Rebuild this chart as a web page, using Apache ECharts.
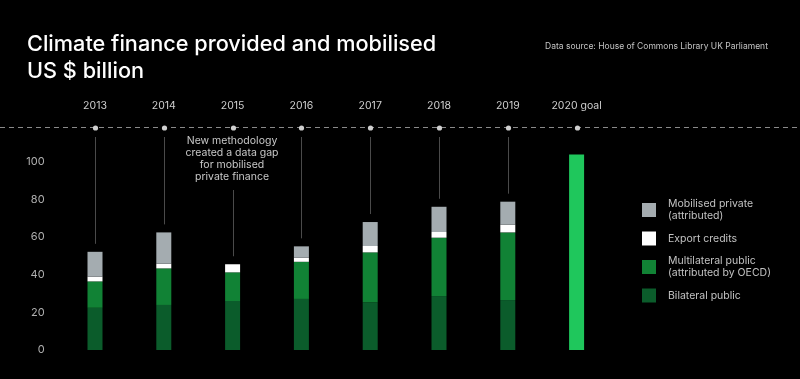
<!DOCTYPE html>
<html>
<head>
<meta charset="utf-8">
<script src="https://cdn.jsdelivr.net/npm/echarts@6/dist/echarts.min.js"></script>
<style>
html,body{margin:0;padding:0;background:#000;}
#chart{width:800px;height:379px;}
</style>
</head>
<body>
<div id="chart"></div>
<script>
// ---- data ----
var years = ['2013', '2014', '2015', '2016', '2017', '2018', '2019', '2020 goal'];
var bilateralPublic = [22.4, 23.9, 26.0, 27.1, 25.3, 28.6, 26.5, '-'];
var multilateralPublic = [14.0, 19.4, 15.2, 19.7, 26.5, 31.0, 35.9, '-'];
var exportCredits = [2.5, 2.5, 4.3, 2.2, 3.4, 3.0, 4.1, '-'];
var mobilisedPrivate = [13.2, 16.6, '-', 6.0, 12.7, 13.4, 12.2, '-'];
var goal2020 = ['-', '-', '-', '-', '-', '-', '-', 103.8];
var yTicks = [0, 20, 40, 60, 80, 100];

var NAME_PRIV = 'Mobilised private\n(attributed)';
var NAME_EXP = 'Export credits';
var NAME_MULTI = 'Multilateral public\n(attributed by OECD)';
var NAME_BIL = 'Bilateral public';

function num(v) { return (v === '-' || v == null) ? 0 : v; }
var leaderData = years.map(function (y, i) {
  var total = num(bilateralPublic[i]) + num(multilateralPublic[i]) + num(exportCredits[i]) + num(mobilisedPrivate[i]);
  var hasLine = goal2020[i] === '-' ? 1 : 0;
  return [i, total, hasLine];
});

var FONT = 'Inter, "Noto Sans", sans-serif';
var chart = echarts.init(document.getElementById('chart'));

function barSeries(name, data, color) {
  return {
    name: name, type: 'bar', stack: 'total', data: data, barWidth: 15,
    itemStyle: { color: color }, emphasis: { disabled: true }, z: 3
  };
}

var option = {
  backgroundColor: '#000',
  animation: false,
  textStyle: { fontFamily: FONT },
  title: [
    {
      text: 'Climate finance provided and mobilised\nUS $ billion',
      left: 22, top: 26,
      textStyle: { color: '#fff', fontSize: 21.7, fontWeight: 500, lineHeight: 27, fontFamily: FONT }
    },
    {
      text: 'Data source: House of Commons Library UK Parliament',
      left: 540, top: 37,
      textStyle: { color: '#c4c4c4', fontSize: 8.5, fontWeight: 400, fontFamily: FONT }
    }
  ],
  legend: {
    orient: 'vertical',
    left: 637, top: 193,
    itemWidth: 14, itemHeight: 14, itemGap: 9.5,
    icon: 'rect',
    selectedMode: false,
    data: [NAME_PRIV, NAME_EXP, NAME_MULTI, NAME_BIL],
    textStyle: { color: '#c2c2c2', fontSize: 10.5, lineHeight: 12, fontFamily: FONT, padding: [0, 0, 0, 7] }
  },
  grid: { left: 60.6, right: 189, top: 128, bottom: 29, containLabel: false },
  xAxis: {
    type: 'category', position: 'top', data: years,
    axisLine: { show: false }, axisTick: { show: false },
    axisLabel: { color: '#cfcfcf', fontSize: 10.5, margin: 17, fontFamily: FONT }
  },
  yAxis: {
    type: 'value', min: 0, max: 117.8, interval: 20,
    splitLine: { show: false }, axisLine: { show: false }, axisTick: { show: false },
    axisLabel: {
      color: '#b0b0b0', fontSize: 11, margin: 16, fontFamily: FONT,
      showMaxLabel: false,
      formatter: function (v) { return yTicks.indexOf(v) >= 0 ? String(v) : ''; }
    }
  },
  graphic: [
    {
      type: 'line', z: 1, silent: true,
      shape: { x1: 0, y1: 127.5, x2: 800, y2: 127.5 },
      style: { stroke: '#8a8a8a', lineWidth: 1, lineDash: [5, 4] }
    },
    {
      type: 'text', silent: true, z: 5,
      x: 232, y: 135,
      style: {
        text: 'New methodology\ncreated a data gap\nfor mobilised\nprivate finance',
        fill: '#c8c8c8', font: '10.5px ' + FONT, align: 'center', verticalAlign: 'top', lineHeight: 12
      }
    }
  ],
  series: [
    barSeries(NAME_BIL, bilateralPublic, '#0b5c2b'),
    barSeries(NAME_MULTI, multilateralPublic, '#118235'),
    barSeries(NAME_EXP, exportCredits, '#ffffff'),
    barSeries(NAME_PRIV, mobilisedPrivate, '#a4acb0'),
    barSeries('2020 goal', goal2020, '#1fc75c'),
    {
      type: 'custom', name: 'leaders', silent: true, z: 2,
      data: leaderData, clip: false,
      renderItem: function (params, api) {
        var idx = api.value(0);
        var x = Math.round(api.coord([idx, 0])[0]) + 0.5;
        var topY = params.coordSys.y;
        var children = [{
          type: 'circle', shape: { cx: x, cy: topY, r: 2.6 },
          style: { fill: '#cfcfcf' }
        }];
        if (api.value(2)) {
          var startY = idx === 2 ? topY + 62 : topY + 9;
          var endY = api.coord([idx, api.value(1)])[1] - 8;
          children.push({
            type: 'line', shape: { x1: x, y1: startY, x2: x, y2: endY },
            style: { stroke: '#4a4a4a', lineWidth: 1 }
          });
        }
        return { type: 'group', children: children };
      }
    }
  ]
};
chart.setOption(option);
</script>
</body>
</html>
